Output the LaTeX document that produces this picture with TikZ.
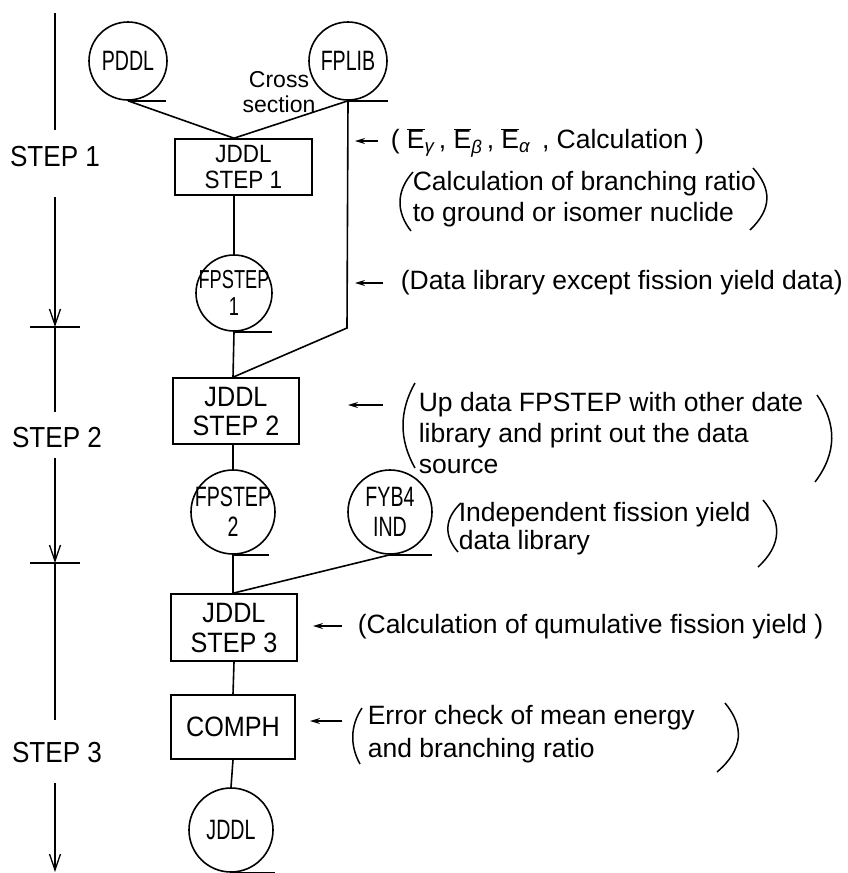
\documentclass[tikz,border=0pt]{standalone}
\usepackage{fontspec}
\setmainfont{Liberation Sans}
\newfontfamily\narrowfont{Liberation Sans}[FakeStretch=0.7]
\newfontfamily\semifont{Liberation Sans}[FakeStretch=0.9]
\usetikzlibrary{arrows.meta}

\newcommand{\Ebar}[1]{$\overline{\mbox{E}}$\textsubscript{\itshape #1}}

\begin{document}
\begin{tikzpicture}[x=1pt, y=-1pt, line width=1.6pt,
  reel/.style={circle, draw, minimum size=#1, inner sep=0pt},
  reellbl/.style={font=\narrowfont\fontsize{28}{30}\selectfont, align=center, inner sep=0pt},
  proc/.style={rectangle, draw, inner sep=0pt, align=center,
               font=\semifont\fontsize{28}{29}\selectfont},
  note/.style={anchor=west, align=left, inner sep=0pt,
               font=\fontsize{26.5}{31}\selectfont},
  steplbl/.style={inner sep=0pt, font=\semifont\fontsize{29}{30}\selectfont},
  hint/.style={-{Stealth[length=10pt,width=6pt]}, line width=1.4pt},
  phase/.style={-{Straight Barb[length=16pt,width=11pt]}, line width=1.3pt},
  paren/.style={line width=1.5pt}
]
\useasboundingbox (0,0) rectangle (848,873);

% ---------- phase axis on the left ----------
\coordinate (tl0) at (55,13);
\coordinate (tl1) at (55,130);
\coordinate (tl2) at (55,197);
\coordinate (tk1) at (55,327);
\coordinate (tl3) at (55,412);
\coordinate (tl4) at (55,458);
\coordinate (tk2) at (55,563);
\coordinate (tl5) at (55,720);
\coordinate (tl6) at (55,783);
\coordinate (tl7) at (55,872);
\node[steplbl] (ph1) at (55,157) {STEP 1};
\node[steplbl] (ph2) at (57,438) {STEP 2};
\node[steplbl] (ph3) at (57,753) {STEP 3};
\draw[line width=1.3pt] (tl0) -- (tl1);
\draw[phase] (tl2) -- (tk1);
\draw[line width=1.3pt] (tk1) -- (tl3);
\draw[phase] (tl4) -- (tk2);
\draw[line width=1.3pt] (tk2) -- (tl5);
\draw[phase] (tl6) -- (tl7);
\draw[line width=1.3pt] ([xshift=-25pt]tk1) -- ([xshift=25pt]tk1);
\draw[line width=1.3pt] ([xshift=-25pt]tk2) -- ([xshift=25pt]tk2);

% ---------- data files (tape reels) ----------
\node[reel=78pt, label={[reellbl]center:PDDL}] (pddl) at (128,61) {};
\node[reel=78pt, label={[reellbl]center:FPLIB}] (fplib) at (348,61) {};
\node[reel=76pt, label={[reellbl, font=\narrowfont\fontsize{26}{27}\selectfont]center:FPSTEP\\1}] (fp1) at (234,293) {};
\node[reel=84pt, label={[reellbl]center:FPSTEP\\2}] (fp2) at (233,512) {};
\node[reel=84pt, label={[reellbl]center:FYB4\\IND}] (fyb) at (390,512) {};
\node[reel=84pt, label={[reellbl]center:JDDL}] (jddl) at (231,830) {};
\foreach \r/\len in {pddl/38, fplib/40, fp1/38, fp2/36, fyb/42, jddl/44}
  \draw (\r.south) -- ++(\len,0);

% ---------- programs ----------
\node[proc, minimum width=137pt, minimum height=56pt,
      font=\semifont\fontsize{25}{26}\selectfont] (jd1) at (243.5,167) {JDDL\\STEP 1};
\node[proc, minimum width=126pt, minimum height=66pt] (jd2) at (236,411) {JDDL\\STEP 2};
\node[proc, minimum width=126pt, minimum height=67pt,
      font=\semifont\fontsize{28}{30}\selectfont] (jd3) at (234,627.5) {JDDL\\STEP 3};
\node[proc, minimum width=124pt, minimum height=64pt] (comph) at (233,727) {COMPH};

\node[inner sep=0pt, align=center, font=\fontsize{23}{25}\selectfont] (xs) at (279,92) {Cross\\section};

% ---------- flow lines ----------
\coordinate (bend) at (347,328);
\draw (pddl.south) -- (jd1.north -| fp1.center);
\draw (fplib.south) -- (jd1.north -| fp1.center);
\draw (jd1.south -| fp1.center) -- (fp1.north);
\draw (fp1.south) -- (jd2.north -| fp2.center);
\draw (fplib.south) -- (bend) -- (jd2.north -| fp2.center);
\draw (jd2.south -| fp2.center) -- (fp2.north);
\draw (fp2.south) -- (jd3.north -| fp2.center);
\draw (fyb.south) -- (jd3.north -| fp2.center);
\draw (jd3.south) -- (comph.north);
\draw (comph.south) -- (jddl.north);

% ---------- notes ----------
\coordinate (h1s) at (378,141); \coordinate (h1e) at (355,141);
\coordinate (h2s) at (383,283); \coordinate (h2e) at (355,283);
\coordinate (h3s) at (383,405); \coordinate (h3e) at (348,405);
\coordinate (h4s) at (342,626); \coordinate (h4e) at (313,626);
\coordinate (h5s) at (342,721); \coordinate (h5e) at (310,721);
\foreach \a in {1,...,5} \draw[hint] (h\a s) -- (h\a e);

\node[note] (n1) at (390,143)
  {( \Ebar{γ}\,, \Ebar{β}\,, \Ebar{α}\, , Calculation )};
\node[note] (n2) at (412,199.5)
  {Calculation of branching ratio\\to ground or isomer nuclide};
\node[note] (n3) at (400,283) {(Data library except fission yield data)};
\node[note] (n4) at (418,433)
  {Up data FPSTEP with other date\\library and print out the data\\source};
\node[note, font=\fontsize{26.5}{28}\selectfont] (n5) at (458,529)
  {Independent fission yield\\data library};
\node[note] (n6) at (357,627) {(Calculation of qumulative fission yield )};
\node[note, font=\fontsize{26.5}{33}\selectfont] (n7) at (367,734)
  {Error check of mean energy\\and branching ratio};

% large brackets round the multi-line notes
\draw[paren] (413,172) .. controls (396,191) and (396,212) .. (411,231);
\draw[paren] (753,168) .. controls (772,189) and (772,209) .. (750,230);
\draw[paren] (415,383) .. controls (399,411) and (399,440) .. (415,468);
\draw[paren] (817,395) .. controls (837,424) and (837,453) .. (815,482);
\draw[paren] (461,503) .. controls (444,519) and (444,536) .. (458,552);
\draw[paren] (763,500) .. controls (782,522) and (782,545) .. (758,567);
\draw[paren] (362,708) .. controls (350,726) and (350,746) .. (360,764);
\draw[paren] (725,703) .. controls (744,726) and (744,749) .. (717,772);
\end{tikzpicture}
\end{document}
